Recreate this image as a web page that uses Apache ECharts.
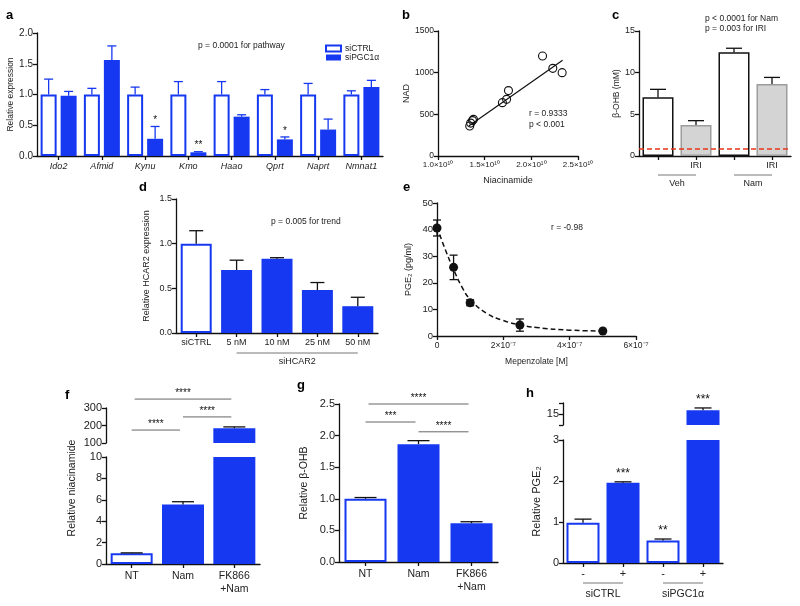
<!DOCTYPE html>
<html><head><meta charset="utf-8">
<script src="https://cdn.jsdelivr.net/npm/echarts@6/dist/echarts.min.js"></script>
<style>html,body{margin:0;padding:0;background:#fff}#c{width:800px;height:606px}</style>
</head><body><div id="c"></div>
<script>
// ---------- DATA ----------
const aCats = ['Ido2','Afmid','Kynu','Kmo','Haao','Qprt','Naprt','Nmnat1'];
const aCtrl = [1.0,1.0,1.0,1.0,1.0,1.0,1.0,1.0];
const aCtrlErr = [0.25,0.10,0.12,0.21,0.21,0.08,0.18,0.06];
const aPgc = [0.98,1.56,0.28,0.06,0.64,0.27,0.43,1.12];
const aPgcErr = [0.07,0.23,0.20,0.01,0.03,0.04,0.17,0.11];
const aStars = ['','','*','**','','*','',''];

const bNiacinamide = [1.34e10,1.35e10,1.37e10,1.38e10,1.69e10,1.735e10,1.755e10,2.12e10,2.23e10,2.33e10];
const bNAD = [360,395,425,440,640,680,785,1200,1052,1000];
const bFitX = [1.33e10,2.335e10];
const bFitY = [360,1150];

const cCats = ['','IRI','','IRI'];
const cVals = [7.05,3.72,12.45,8.65];
const cErr = [0.95,0.52,0.48,0.78];
const cGroups = ['Veh','Nam'];
const cGroupFrom = [0,2];
const cGroupTo = [1,3];
const cBaseline = 0.84;

const dCats = ['siCTRL','5 nM','10 nM','25 nM','50 nM'];
const dVals = [1.0,0.705,0.83,0.48,0.30];
const dErr = [0.145,0.11,0.013,0.085,0.10];
const dGroups = ['siHCAR2'];
const dGroupFrom = [1];
const dGroupTo = [4];

const eDose = [0,5e-8,1e-7,2.5e-7,5e-7];
const ePGE2 = [40.6,25.8,12.5,4.1,1.9];
const eErr = [3.0,4.6,1.1,2.3,0.3];
const eFitX = [0,2.5e-8,5e-8,7.5e-8,1e-7,1.5e-7,2e-7,2.5e-7,3e-7,4e-7,5e-7];
const eFitY = [41,32.5,25,18.5,13.8,8.5,5.8,4.2,3.2,2.2,1.9];

const fCats = ['NT','Nam','FK866\n+Nam'];
const fVals = [1.0,5.55,184];
const fErr = [0.04,0.27,8];
const fSigFrom = [0,1,0];
const fSigTo = [1,2,2];
const fSigLevel = [174,249,351];
const fSigText = ['****','****','****'];

const gCats = ['NT','Nam','FK866\n+Nam'];
const gVals = [1.0,1.865,0.612];
const gErr = [0.02,0.055,0.025];
const gSigFrom = [0,0,1];
const gSigTo = [1,2,2];
const gSigLevel = [2.215,2.5,2.06];
const gSigText = ['***','****','****'];

const hCats = ['-','+','-','+'];
const hVals = [0.98,1.96,0.55,15.35];
const hErr = [0.09,0.02,0.035,0.2];
const hStars = ['','***','**','***'];
const hGroups = ['siCTRL','siPGC1α'];
const hGroupFrom = [0,2];
const hGroupTo = [1,3];

// ---------- STYLE ----------
const FONT = '"Liberation Sans", Arial, Helvetica, sans-serif';
const BLUE = '#1538f0';
const INK = '#111';
const W_BLUE = {color:'#fff', borderColor:BLUE, borderWidth:2};
const F_BLUE = {color:BLUE};

function G(l,t,w,h){return {left:l,top:t,width:w,height:h};}
const grids = [
  G(37,33,346,123),   //0 a
  G(438,31,140,125),  //1 b
  G(639,31,152,125),  //2 c
  G(176,199,202,134), //3 d
  G(437,203,199,133), //4 e
  G(106,408,154,35),  //5 f upper
  G(106,457,154,107), //6 f lower
  G(339,404,159,158), //7 g
  G(563,403,160,22),  //8 h upper
  G(563,440,160,123)  //9 h lower
];

function axLine(){return {show:true,onZero:false,lineStyle:{color:INK,width:1.3}};}
function axTick(align){return {show:true,length:4,alignWithLabel:!!align,lineStyle:{color:INK,width:1.3}};}
function catX(gi,data,fs,extra){
  return Object.assign({type:'category',gridIndex:gi,data:data,axisLine:axLine(),axisTick:axTick(true),
    splitLine:{show:false},axisLabel:{color:'#222',fontFamily:FONT,fontSize:fs,margin:5,interval:0}},extra||{});
}
const plain = v => String(v);
function valY(gi,min,max,iv,fs,fmt,extra){
  return Object.assign({type:'value',gridIndex:gi,min:min,max:max,interval:iv,axisLine:axLine(),axisTick:axTick(false),
    splitLine:{show:false},axisLabel:{color:'#222',fontFamily:FONT,fontSize:fs,margin:4,formatter:fmt||plain}},extra||{});
}
function yName(name,gap,fs){
  return {name:name,nameLocation:'middle',nameGap:gap,nameTextStyle:{fontFamily:FONT,fontSize:fs,color:'#222'}};
}

function errorSeries(xi,yi,xs,vals,errs,o){
  return {type:'custom',xAxisIndex:xi,yAxisIndex:yi,clip:!!o.clip,silent:true,z:o.z||4,
    data:vals.map((v,i)=>[xs[i],v,errs[i]]),
    renderItem:function(params,api){
      const xv=api.value(0),v=api.value(1),e=api.value(2);
      const base=api.coord([xv,v]),top=api.coord([xv,v+e]);
      const x=base[0]+(o.offset||0),h=o.cap/2,lw=o.lw||1.3;
      const ch=[
        {type:'line',shape:{x1:x,y1:base[1],x2:x,y2:top[1]},style:{stroke:o.color,lineWidth:lw}},
        {type:'line',shape:{x1:x-h,y1:top[1],x2:x+h,y2:top[1]},style:{stroke:o.color,lineWidth:lw}}
      ];
      if(o.both){
        const bot=api.coord([xv,v-e]);
        ch.push({type:'line',shape:{x1:x,y1:base[1],x2:x,y2:bot[1]},style:{stroke:o.color,lineWidth:lw}});
        ch.push({type:'line',shape:{x1:x-h,y1:bot[1],x2:x+h,y2:bot[1]},style:{stroke:o.color,lineWidth:lw}});
      }
      return {type:'group',children:ch};
    }};
}
function starSeries(xi,yi,vals,errs,texts,o){
  return {type:'custom',xAxisIndex:xi,yAxisIndex:yi,silent:true,z:6,clip:false,
    data:vals.map((v,i)=>[i,v+errs[i]]),
    renderItem:function(params,api){
      const t=texts[params.dataIndex];
      const yv=api.value(1);
      if(!t) return null;
      if(o.range&&(yv<o.range[0]||yv>o.range[1])) return null;
      const p=api.coord([api.value(0),yv]);
      return {type:'text',x:p[0]+(o.offset||0),y:p[1]-(o.dy||0),
        style:{text:t,fill:INK,fontSize:o.fs,fontFamily:FONT,align:'center',verticalAlign:'bottom'}};
    }};
}
function sigSeries(xi,yi,from,to,level,texts,fs){
  return {type:'custom',xAxisIndex:xi,yAxisIndex:yi,silent:true,z:6,clip:false,
    data:from.map((f,i)=>[f,level[i]]),
    renderItem:function(params,api){
      const i=params.dataIndex;
      const p1=api.coord([from[i],level[i]]),p2=api.coord([to[i],level[i]]);
      const x1=p1[0]+((to[i]-from[i])>1?3:0),x2=p2[0]-3;
      return {type:'group',children:[
        {type:'line',shape:{x1:x1,y1:p1[1],x2:x2,y2:p1[1]},style:{stroke:'#666',lineWidth:1}},
        {type:'text',x:(x1+x2)/2,y:p1[1]-1,style:{text:texts[i],fill:INK,fontSize:fs,fontFamily:FONT,align:'center',verticalAlign:'bottom'}}
      ]};
    }};
}
function groupSeries(xi,yi,from,to,labels,dLine,dText,fs,ext){
  return {type:'custom',xAxisIndex:xi,yAxisIndex:yi,silent:true,z:6,clip:false,
    data:from.map((f,i)=>[f,0]),
    renderItem:function(params,api){
      const i=params.dataIndex;
      const p1=api.coord([from[i],0]),p2=api.coord([to[i],0]);
      const x1=p1[0]-(ext||0),x2=p2[0]+(ext||0);
      return {type:'group',children:[
        {type:'line',shape:{x1:x1,y1:p1[1]+dLine,x2:x2,y2:p1[1]+dLine},style:{stroke:'#777',lineWidth:1}},
        {type:'text',x:(x1+x2)/2,y:p1[1]+dText,style:{text:labels[i],fill:'#222',fontSize:fs,fontFamily:FONT,align:'center',verticalAlign:'middle'}}
      ]};
    }};
}
const idx = arr => arr.map((_,i)=>i);
const f1 = v => v.toFixed(1);

// ---------- AXES ----------
const xAxis = [
  catX(0,aCats,9,{axisLabel:{color:'#222',fontFamily:FONT,fontSize:9,fontStyle:'italic',margin:6,interval:0}}),
  {type:'value',gridIndex:1,min:1e10,max:2.5e10,interval:0.5e10,axisLine:axLine(),axisTick:axTick(false),splitLine:{show:false},
   axisLabel:{color:'#222',fontFamily:FONT,fontSize:8,margin:5,formatter:v=>(v/1e10).toFixed(1)+'×10¹⁰'},
   name:'Niacinamide',nameLocation:'middle',nameGap:20,nameTextStyle:{fontFamily:FONT,fontSize:9,color:'#222'}},
  catX(2,cCats,9),
  catX(3,dCats,9),
  {type:'value',gridIndex:4,min:0,max:6e-7,interval:2e-7,axisLine:axLine(),axisTick:axTick(false),splitLine:{show:false},
   axisLabel:{color:'#222',fontFamily:FONT,fontSize:8.5,margin:5,formatter:v=>v===0?'0':Math.round(v/1e-7)+'×10⁻⁷'},
   name:'Mepenzolate [M]',nameLocation:'middle',nameGap:21,nameTextStyle:{fontFamily:FONT,fontSize:8.5,color:'#222'}},
  catX(5,fCats,10.5,{show:false}),
  catX(6,fCats,10.5,{axisLabel:{color:'#222',fontFamily:FONT,fontSize:10.5,margin:6,interval:0,lineHeight:13}}),
  catX(7,gCats,10.5,{axisLabel:{color:'#222',fontFamily:FONT,fontSize:10.5,margin:6,interval:0,lineHeight:13}}),
  catX(8,hCats,10.5,{show:false}),
  catX(9,hCats,11,{axisLabel:{color:'#222',fontFamily:FONT,fontSize:11,margin:5,interval:0}})
];
const yAxis = [
  valY(0,0,2,0.5,10,f1,yName('Relative expression',20,8.5)),
  valY(1,0,1500,500,8.5,plain,yName('NAD',22,9)),
  valY(2,0,15,5,9,plain,yName('β-OHB (mM)',17,8.5)),
  valY(3,0,1.5,0.5,9,f1,yName('Relative HCAR2 expression',25,9)),
  valY(4,0,50,10,9.5,plain,yName('PGE₂ (pg/ml)',24,9)),
  valY(5,100,300,100,11,plain),
  valY(6,0,10,2,11,plain),
  valY(7,0,2.5,0.5,11,f1,yName('Relative β-OHB',29,10.5)),
  valY(8,14,16,1,11,v=>v===15?'15':''),
  valY(9,0,3,1,11,plain,yName('Relative PGE₂',21,11))
];

// ---------- SERIES ----------
const whiteBlue = i => i===0 ? W_BLUE : F_BLUE;
const series = [
  // a
  {name:'siCTRL',type:'bar',xAxisIndex:0,yAxisIndex:0,data:aCtrl,barWidth:16,barGap:'25%',itemStyle:W_BLUE},
  {name:'siPGC1α',type:'bar',xAxisIndex:0,yAxisIndex:0,data:aPgc,barWidth:16,barGap:'25%',itemStyle:F_BLUE},
  errorSeries(0,0,idx(aCats),aCtrl,aCtrlErr,{color:BLUE,cap:9,offset:-10}),
  errorSeries(0,0,idx(aCats),aPgc,aPgcErr,{color:BLUE,cap:9,offset:10}),
  starSeries(0,0,aPgc,aPgcErr,aStars,{offset:10,dy:1,fs:10}),
  // b
  {type:'scatter',xAxisIndex:1,yAxisIndex:1,data:bNiacinamide.map((x,i)=>[x,bNAD[i]]),symbol:'circle',symbolSize:8,
   itemStyle:{color:'rgba(255,255,255,0)',borderColor:INK,borderWidth:1.1,opacity:1},z:3},
  {type:'line',xAxisIndex:1,yAxisIndex:1,data:bFitX.map((x,i)=>[x,bFitY[i]]),showSymbol:false,symbol:'none',
   lineStyle:{color:INK,width:1.2},z:2},
  // c
  {type:'bar',xAxisIndex:2,yAxisIndex:2,barWidth:31,
   data:cVals.map((v,i)=>({value:v,itemStyle:(i%2===0)?{color:'#fff',borderColor:INK,borderWidth:1.5}:{color:'#d4d4d4',borderColor:'#9c9c9c',borderWidth:1.5}})),
   markLine:{silent:true,symbol:'none',label:{show:false},lineStyle:{color:'#e8341c',type:[5,3],width:1.5},data:[{yAxis:cBaseline}]}},
  errorSeries(2,2,idx(cCats),cVals,cErr,{color:INK,cap:16}),
  groupSeries(2,2,cGroupFrom,cGroupTo,cGroups,19,28,9,0),
  // d
  {type:'bar',xAxisIndex:3,yAxisIndex:3,barWidth:31,data:dVals.map((v,i)=>({value:v,itemStyle:whiteBlue(i)}))},
  errorSeries(3,3,idx(dCats),dVals,dErr,{color:INK,cap:14}),
  groupSeries(3,3,dGroupFrom,dGroupTo,dGroups,20,29,9,0),
  // e
  {type:'line',xAxisIndex:4,yAxisIndex:4,data:eFitX.map((x,i)=>[x,eFitY[i]]),smooth:true,showSymbol:false,symbol:'none',
   lineStyle:{color:INK,width:1.5,type:[5,3]},z:2},
  errorSeries(4,4,eDose,ePGE2,eErr,{color:INK,cap:8,both:true,z:3}),
  {type:'scatter',xAxisIndex:4,yAxisIndex:4,data:eDose.map((x,i)=>[x,ePGE2[i]]),symbolSize:9,itemStyle:{color:INK,opacity:1},z:5},
  // f
  {type:'bar',xAxisIndex:5,yAxisIndex:5,barWidth:42,clip:true,data:fVals.map((v,i)=>({value:v,itemStyle:whiteBlue(i)}))},
  {type:'bar',xAxisIndex:6,yAxisIndex:6,barWidth:42,clip:true,data:fVals.map((v,i)=>({value:v,itemStyle:whiteBlue(i)}))},
  errorSeries(5,5,idx(fCats),fVals,fErr,{color:INK,cap:22,clip:true}),
  errorSeries(6,6,idx(fCats),fVals,fErr,{color:INK,cap:22,clip:true}),
  sigSeries(5,5,fSigFrom,fSigTo,fSigLevel,fSigText,10),
  // g
  {type:'bar',xAxisIndex:7,yAxisIndex:7,barWidth:42,data:gVals.map((v,i)=>({value:v,itemStyle:whiteBlue(i)}))},
  errorSeries(7,7,idx(gCats),gVals,gErr,{color:INK,cap:22}),
  sigSeries(7,7,gSigFrom,gSigTo,gSigLevel,gSigText,10),
  // h
  {type:'bar',xAxisIndex:8,yAxisIndex:8,barWidth:33,clip:true,data:hVals.map((v,i)=>({value:v,itemStyle:(i%2===0)?W_BLUE:F_BLUE}))},
  {type:'bar',xAxisIndex:9,yAxisIndex:9,barWidth:33,clip:true,data:hVals.map((v,i)=>({value:v,itemStyle:(i%2===0)?W_BLUE:F_BLUE}))},
  errorSeries(8,8,idx(hCats),hVals,hErr,{color:INK,cap:17,clip:true}),
  errorSeries(9,9,idx(hCats),hVals,hErr,{color:INK,cap:17,clip:true}),
  starSeries(8,8,hVals,hErr,hStars,{dy:2,fs:12,range:[14,16]}),
  starSeries(9,9,hVals,hErr,hStars,{dy:2,fs:12,range:[0,3]}),
  groupSeries(9,9,hGroupFrom,hGroupTo,hGroups,20,31,10.5,0)
];

function T(x,y,text,fs,extra){
  return {type:'text',x:x,y:y,silent:true,style:Object.assign({text:text,fill:'#222',fontSize:fs,fontFamily:FONT,align:'left',verticalAlign:'middle'},extra||{})};
}
const graphic = [
  T(6,15,'a',13,{fontWeight:'bold',fill:'#000'}),
  T(402,15,'b',13,{fontWeight:'bold',fill:'#000'}),
  T(612,15,'c',13,{fontWeight:'bold',fill:'#000'}),
  T(139,187,'d',13,{fontWeight:'bold',fill:'#000'}),
  T(403,187,'e',13,{fontWeight:'bold',fill:'#000'}),
  T(65,395,'f',13,{fontWeight:'bold',fill:'#000'}),
  T(297,385,'g',13,{fontWeight:'bold',fill:'#000'}),
  T(526,393,'h',13,{fontWeight:'bold',fill:'#000'}),
  T(198,46,'p = 0.0001 for pathway',8.5),
  T(529,114,'r = 0.9333',8.5),
  T(529,125,'p < 0.001',8.5),
  T(705,19,'p < 0.0001 for Nam',8.5),
  T(705,29,'p = 0.003 for IRI',8.5),
  T(271,222,'p = 0.005 for trend',8.5),
  T(551,228,'r = -0.98',8.5),
  {type:'text',x:72,y:488,rotation:Math.PI/2,silent:true,
   style:{text:'Relative niacinamide',fill:'#222',fontSize:10.5,fontFamily:FONT,align:'center',verticalAlign:'middle'}}
];

const chart = echarts.init(document.getElementById('c'),null,{renderer:'canvas'});
chart.setOption({
  animation:false,
  backgroundColor:'#fff',
  textStyle:{fontFamily:FONT},
  grid:grids,
  xAxis:xAxis,
  yAxis:yAxis,
  legend:{data:['siCTRL','siPGC1α'],left:320,top:39,orient:'vertical',icon:'rect',itemWidth:15,itemHeight:6,itemGap:0,
    selectedMode:false,textStyle:{fontSize:8.5,fontFamily:FONT,color:'#222',lineHeight:8,padding:[0,0,0,-1]}},
  series:series,
  graphic:graphic
});
</script></body></html>
